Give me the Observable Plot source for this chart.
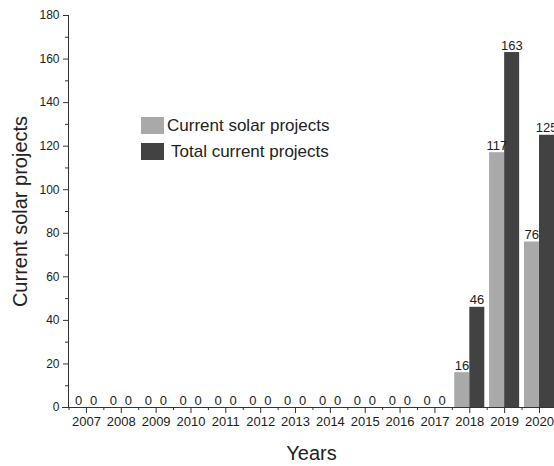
<!DOCTYPE html>
<html>
<head>
<meta charset="utf-8">
<script src="https://cdn.jsdelivr.net/npm/d3@7"></script>
<script src="https://cdn.jsdelivr.net/npm/@observablehq/plot@0.6"></script>
<style>
  html, body { margin: 0; padding: 0; background: #fff; }
  #wrap { position: relative; width: 554px; height: 466px; overflow: hidden; font-family: "Liberation Sans", Arial, sans-serif; }
  .legend { position: absolute; left: 141px; top: 117px; font-size: 17px; color: #222; }
  .legend .row { display: flex; align-items: center; height: 17px; margin-bottom: 9px; }
  .legend .sw { width: 23px; height: 17px; margin-right: 3px; flex: none; }
</style>
</head>
<body>
<div id="wrap"></div>
<script>
const years = ["2007","2008","2009","2010","2011","2012","2013","2014","2015","2016","2017","2018","2019","2020"];
const solarProjects = [0,0,0,0,0,0,0,0,0,0,0,16,117,76];
const totalProjects = [0,0,0,0,0,0,0,0,0,0,0,46,163,125];
const yMajorTicks = [0,20,40,60,80,100,120,140,160,180];
const yMinorTicks = [10,30,50,70,90,110,130,150,170];
const seriesNames = ["Current solar projects", "Total current projects"];
const seriesColors = ["#a9a9a9", "#424242"];
const xTitle = "Years";
const yTitle = "Current solar projects";

const solarData = years.map((y, i) => ({year: y, value: solarProjects[i]}));
const totalData = years.map((y, i) => ({year: y, value: totalProjects[i]}));

const step = 34.85;
const chart = Plot.plot({
  width: 554,
  height: 466,
  marginLeft: 68,
  marginRight: 0,
  marginTop: 15,
  marginBottom: 59,
  style: {fontFamily: "'Liberation Sans', Arial, sans-serif", fontSize: "12px", color: "#222", background: "#fff"},
  x: {domain: years, range: [68.5, 68.5 + step * years.length], padding: 0, round: false},
  y: {domain: [0, 180], range: [407, 15]},
  marks: [
    Plot.barY(solarData, {x: "year", y: "value", fill: seriesColors[0], insetLeft: 2.4, insetRight: 17.45}),
    Plot.barY(totalData, {x: "year", y: "value", fill: seriesColors[1], insetLeft: 17.45, insetRight: 2.4}),
    Plot.text(solarData, {x: "year", y: "value", text: d => String(d.value), dx: -7.8, lineAnchor: "bottom", dy: -3, fontSize: 13, fill: "#222"}),
    Plot.text(totalData, {x: "year", y: "value", text: d => String(d.value), dx: 7.2, lineAnchor: "bottom", dy: -3, fontSize: 13, fill: "#222"}),
    Plot.frame({anchor: "left", stroke: "#333"}),
    Plot.ruleY([0], {stroke: "#333", insetLeft: -6}),
    Plot.axisY({ticks: yMajorTicks, tickSize: 5, tickPadding: 4, label: null, fontSize: 12, stroke: "#333"}),
    Plot.axisY({ticks: yMinorTicks, tickSize: 3, tickFormat: () => "", label: null, stroke: "#333"}),
    Plot.axisX({ticks: years, tickSize: 6, tickPadding: 3, label: null, fontSize: 13, stroke: "#333"}),
    Plot.axisX({ticks: years, tickSize: 3, tickFormat: () => "", label: null, dx: -step / 2, stroke: "#333"}),
    Plot.text([yTitle], {frameAnchor: "left", textAnchor: "middle", rotate: -90, dx: -48, fontSize: 20, fill: "#222", text: d => d}),
    Plot.text([xTitle], {frameAnchor: "bottom", dy: 52, fontSize: 20, fill: "#222", text: d => d})
  ]
});
document.getElementById("wrap").appendChild(chart);

const legend = document.createElement("div");
legend.className = "legend";
seriesNames.forEach((name, i) => {
  const row = document.createElement("div");
  row.className = "row";
  const sw = document.createElement("div");
  sw.className = "sw";
  sw.style.background = seriesColors[i];
  const label = document.createElement("span");
  label.textContent = name;
  if (i === 1) label.style.marginLeft = "4px";
  row.appendChild(sw);
  row.appendChild(label);
  legend.appendChild(row);
});
document.getElementById("wrap").appendChild(legend);
</script>
</body>
</html>
